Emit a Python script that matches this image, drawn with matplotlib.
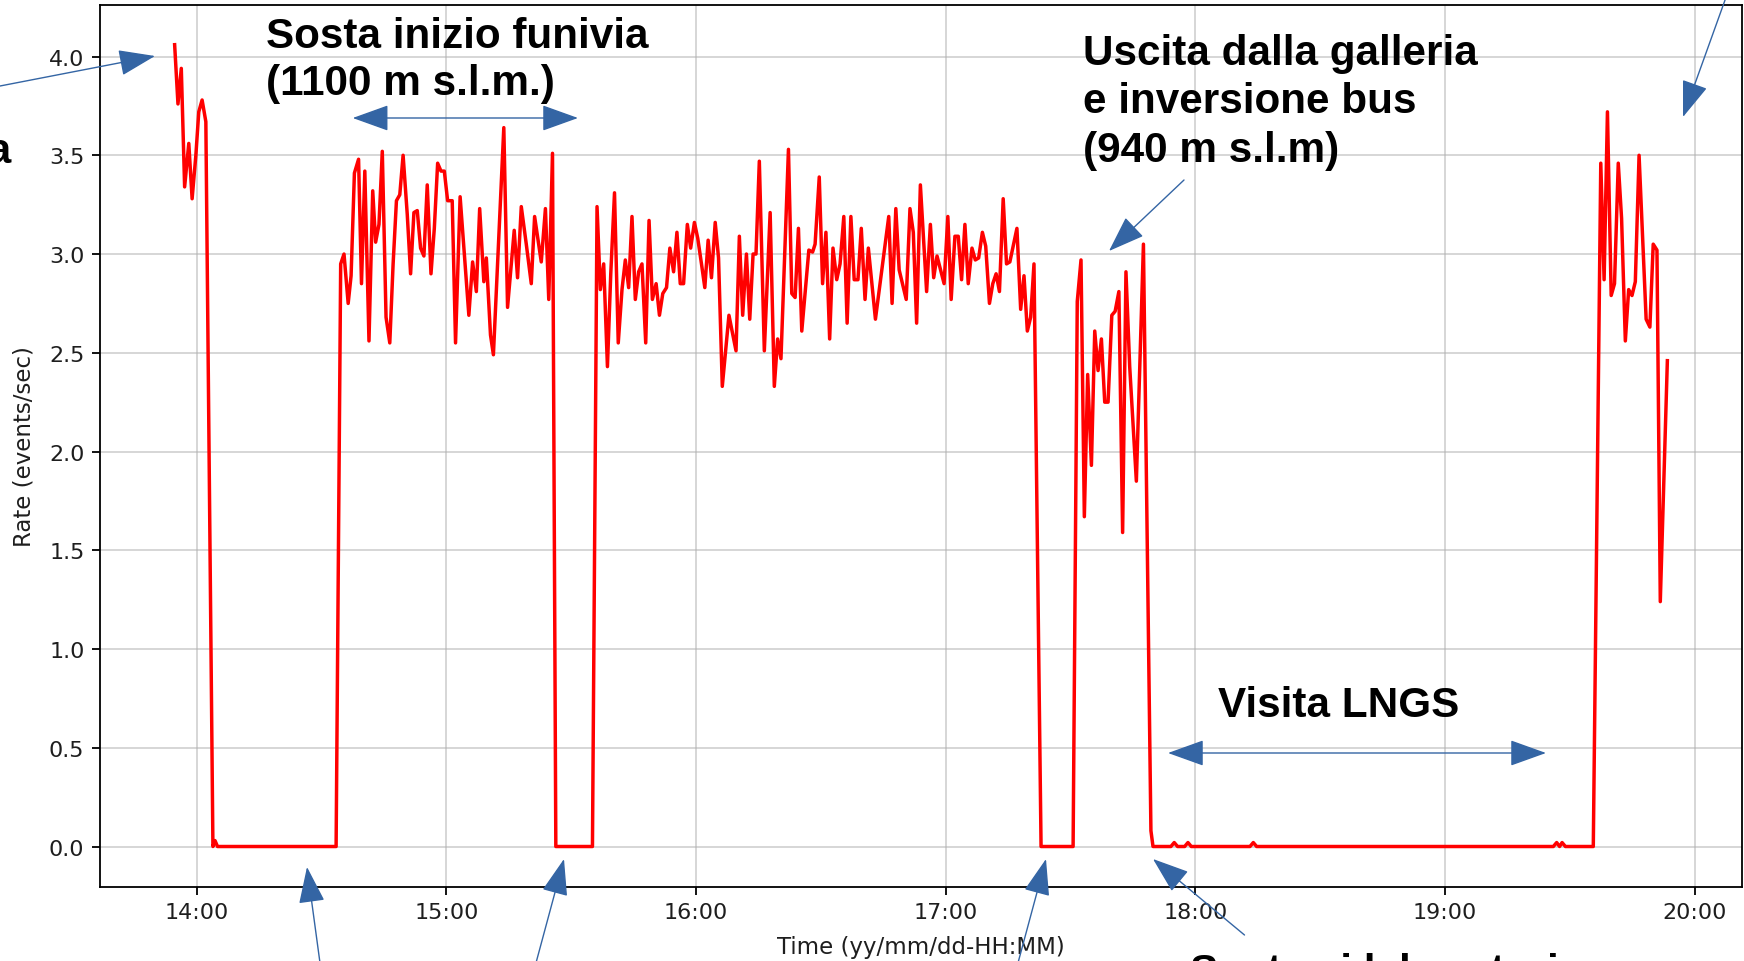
import matplotlib
matplotlib.use("Agg")
import matplotlib.pyplot as plt
import matplotlib.dates as mdates
from matplotlib.ticker import MultipleLocator
from matplotlib.patches import FancyArrowPatch
from datetime import datetime, timedelta

W, H, DPI = 1744, 962, 100

# ---------------- data: minutes after 14:00, rate (events/sec) ----------------
t_a = [-5.3, -4.5, -3.7, -2.9, -1.9, -1.1, -0.2, 0.5, 1.3, 2.2]
r_a = [4.06, 3.76, 3.94, 3.34, 3.56, 3.28, 3.50, 3.72, 3.78, 3.67]

t_z1 = [3.9, 4.4, 5.0, 33.5]
r_z1 = [0.0, 0.03, 0.0, 0.0]

t_b = [34.6, 35.4, 36.4, 37.1, 37.9, 38.9, 39.6, 40.4, 41.4, 42.3,
       43.0, 43.8, 44.6, 45.5, 46.4, 47.2, 48.0, 48.8, 49.6, 50.6,
       51.4, 52.2, 53.0, 53.8, 54.6, 55.4, 56.3, 57.1, 57.9, 58.7,
       59.5, 60.3, 61.4, 62.2, 63.3, 65.4, 66.3, 67.2, 68.0, 69.0,
       69.6, 70.6, 71.3, 73.8, 74.7, 76.3, 77.1, 78.0, 79.2, 80.4,
       81.2, 82.8, 83.8, 84.6, 85.5]
r_b = [2.95, 3.00, 2.75, 2.89, 3.41, 3.48, 2.85, 3.42, 2.56, 3.32,
       3.06, 3.15, 3.52, 2.68, 2.55, 2.95, 3.27, 3.30, 3.50, 3.20,
       2.90, 3.21, 3.22, 3.03, 2.99, 3.35, 2.90, 3.13, 3.46, 3.42,
       3.42, 3.27, 3.27, 2.55, 3.29, 2.69, 2.96, 2.81, 3.23, 2.86,
       2.98, 2.59, 2.49, 3.64, 2.73, 3.12, 2.88, 3.24, 3.05, 2.85,
       3.19, 2.96, 3.23, 2.77, 3.51]

t_z2 = [86.3, 95.1]
r_z2 = [0.0, 0.0]

t_c = [96.2, 97.0, 97.8, 98.7, 99.5, 100.4, 101.3, 102.2, 103.0, 103.8,
       104.6, 105.4, 106.2, 107.0, 107.9, 108.7, 109.5, 110.4, 111.2, 112.0,
       112.9, 113.7, 114.6, 115.4, 116.2, 117.0, 117.9, 118.7, 119.6, 120.4,
       121.3, 122.1, 122.9, 123.7, 124.6, 125.4, 126.3, 127.9, 129.6, 130.4,
       131.2, 132.1, 132.9, 133.7, 134.4, 135.2, 136.4, 137.8, 138.8, 139.6,
       140.4, 142.2, 143.0, 143.8, 144.6, 145.4, 147.1, 148.0, 148.6, 149.6,
       150.4, 151.2, 152.1, 152.9, 153.8, 154.6, 155.5, 156.3, 157.2, 158.0,
       158.9, 159.7, 160.6, 161.4, 163.1, 166.3, 167.1, 168.0, 168.8, 170.5,
       171.4, 172.2, 173.0, 173.9, 175.4, 176.3, 177.1, 177.9, 179.6, 180.5,
       181.3, 182.2, 183.0, 183.8, 184.6, 185.4, 186.3, 187.1, 187.9, 188.8,
       189.6, 190.5, 191.3, 192.1, 192.9, 193.8, 194.6, 195.4, 197.1, 198.0,
       198.8, 199.6, 200.4, 201.2]
r_c = [3.24, 2.82, 2.95, 2.43, 2.90, 3.31, 2.55, 2.82, 2.97, 2.83,
       3.19, 2.77, 2.91, 2.95, 2.55, 3.17, 2.77, 2.85, 2.69, 2.80,
       2.83, 3.03, 2.91, 3.11, 2.85, 2.85, 3.15, 3.03, 3.16, 3.08,
       2.95, 2.83, 3.07, 2.88, 3.16, 2.98, 2.33, 2.69, 2.51, 3.09,
       2.69, 3.00, 2.67, 3.00, 3.00, 3.47, 2.51, 3.21, 2.33, 2.57,
       2.47, 3.53, 2.80, 2.78, 3.13, 2.61, 3.02, 3.01, 3.05, 3.39,
       2.85, 3.11, 2.57, 3.03, 2.87, 2.95, 3.19, 2.65, 3.19, 2.87,
       2.87, 3.13, 2.77, 3.03, 2.67, 3.19, 2.75, 3.23, 2.92, 2.77,
       3.23, 3.11, 2.65, 3.35, 2.81, 3.15, 2.88, 2.99, 2.85, 3.19,
       2.77, 3.09, 3.09, 2.87, 3.15, 2.85, 3.03, 2.97, 2.98, 3.11,
       3.04, 2.75, 2.85, 2.90, 2.81, 3.28, 2.95, 2.96, 3.13, 2.72,
       2.89, 2.61, 2.68, 2.95]

t_z3 = [202.9, 210.6]
r_z3 = [0.0, 0.0]

t_d = [211.6, 212.5, 213.3, 214.1, 215.0, 215.8, 216.6, 217.4, 218.2, 219.0,
       219.9, 220.7, 221.6, 222.5, 223.3, 224.2, 225.8, 227.5]
r_d = [2.76, 2.97, 1.67, 2.39, 1.93, 2.61, 2.41, 2.57, 2.25, 2.25,
       2.69, 2.71, 2.81, 1.59, 2.91, 2.43, 1.85, 3.05]

t_z4 = [229.3, 229.8, 234.1, 234.9, 235.7, 237.4, 238.2, 239.0, 253.1, 253.9,
        254.7, 326.0, 326.8, 327.5, 328.1, 328.9, 335.6]
r_z4 = [0.08, 0.0, 0.0, 0.02, 0.0, 0.0, 0.02, 0.0, 0.0, 0.02,
        0.0, 0.0, 0.02, 0.0, 0.02, 0.0, 0.0]

t_e = [337.4, 338.2, 339.0, 339.9, 340.7, 341.6, 342.4, 343.3, 344.1, 344.9,
       345.7, 346.6, 348.3, 349.2, 350.0, 350.9, 351.7, 353.4]
r_e = [3.46, 2.87, 3.72, 2.79, 2.85, 3.46, 3.18, 2.56, 2.82, 2.79,
       2.86, 3.50, 2.67, 2.63, 3.05, 3.02, 1.24, 2.46]

minutes = t_a + t_z1 + t_b + t_z2 + t_c + t_z3 + t_d + t_z4 + t_e
rate = r_a + r_z1 + r_b + r_z2 + r_c + r_z3 + r_d + r_z4 + r_e

base = datetime(2023, 5, 10, 14, 0)
times = [base + timedelta(minutes=m) for m in minutes]

# annotation texts
txt_sosta = ["Sosta inizio funivia", "(1100 m s.l.m.)"]
txt_uscita = ["Uscita dalla galleria", "e inversione bus", "(940 m s.l.m)"]
txt_visita = "Visita LNGS"
txt_left = "Partenza"
txt_bottom = "Sosta ai laboratori"

# ---------------- figure ----------------
fig = plt.figure(figsize=(W / DPI, H / DPI), dpi=DPI)
fig.patch.set_facecolor("white")


def fp(x, y):
    """top-left pixel coords -> figure fraction"""
    return (x / W, 1 - y / H)


ax = fig.add_axes([100 / W, 1 - 887.6 / H, 1642 / W, 882 / H])
ax.plot(times, rate, color="red", lw=2.5)

ax.xaxis.set_major_locator(mdates.HourLocator())
ax.xaxis.set_major_formatter(mdates.DateFormatter("%H:%M"))
ax.yaxis.set_major_locator(MultipleLocator(0.5))
ax.yaxis.set_major_formatter(matplotlib.ticker.FormatStrFormatter("%.1f"))
ax.grid(True, color="#b0b0b0", alpha=0.6, lw=1.2)
ax.set_axisbelow(True)
for s in ax.spines.values():
    s.set_linewidth(1.3)
    s.set_color("black")
ax.tick_params(labelsize=16, length=5.6, width=1.3, pad=5.6, labelcolor="#1e1e1e")
ax.set_xlabel("Time (yy/mm/dd-HH:MM)", fontsize=16.5, labelpad=9.5, color="#1e1e1e")
ax.set_ylabel("Rate (events/sec)", fontsize=16.5, labelpad=10, color="#1e1e1e")

# ---------------- annotations ----------------
tfont = dict(family=["Liberation Sans", "DejaVu Sans"], fontweight="bold",
             fontsize=30.4, color="black", va="baseline")

for i, line in enumerate(txt_sosta):
    fig.text(*fp(266.5, 47.7 + 47.5 * i), line, ha="left", **tfont)
for i, line in enumerate(txt_uscita):
    fig.text(*fp(1083, 65 + 48.3 * i), line, ha="left", **tfont)
fig.text(*fp(1218, 717), txt_visita, ha="left", **tfont)
fig.text(*fp(11, 163), txt_left, ha="right", **tfont)
fig.text(*fp(1190, 984), txt_bottom, ha="left", **tfont)

blue = "#3465a4"
HL, HW = 32 * 0.72, 11.5 * 0.72


def arrow(p0, p1, double=False):
    style = "<|-|>" if double else "-|>"
    style += f",head_length={HL},head_width={HW}"
    a = FancyArrowPatch(posA=fp(*p0), posB=fp(*p1), transform=fig.transFigure,
                        arrowstyle=style, mutation_scale=1, lw=1.0,
                        color=blue, shrinkA=0, shrinkB=0)
    fig.add_artist(a)


arrow((0, 87), (155, 57))
arrow((352.7, 119), (578, 119), double=True)
arrow((1184, 181), (1109, 252))
arrow((1729, -10), (1683, 118))
arrow((321.5, 975), (307, 868))
arrow((533, 975), (564, 860))
arrow((1015, 975), (1046, 860))
arrow((1244.5, 936), (1153, 860))
arrow((1168, 754), (1546, 754), double=True)

fig.savefig("out.png", dpi=DPI)
